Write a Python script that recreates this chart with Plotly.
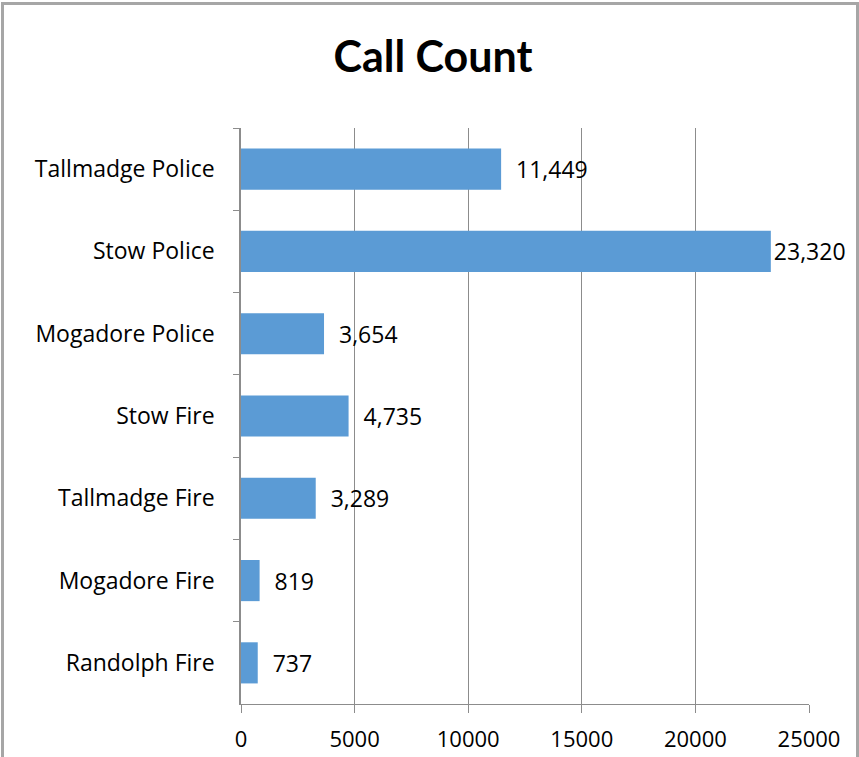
import plotly.graph_objects as go

# categories listed top to bottom, as in the chart
units = ['Tallmadge Police', 'Stow Police', 'Mogadore Police', 'Stow Fire',
         'Tallmadge Fire', 'Mogadore Fire', 'Randolph Fire']
calls = [11449, 23320, 3654, 4735, 3289, 819, 737]
x_ticks = [0, 5000, 10000, 15000, 20000, 25000]

W, H = 859, 757
FONT = 'Open Sans, Carlito, Calibri, sans-serif'
TITLE_FONT = 'Lato, Carlito, Calibri, sans-serif'
GRID = '#8c8c8c'

# Excel pulls the label of the longest bar in close so it fits inside the chart
labels = [('' if v > 20000 else '\u00a0\u00a0') + '%{x:,}' for v in calls]

fig = go.Figure()
fig.add_trace(go.Bar(
    x=calls,
    y=units,
    orientation='h',
    marker=dict(color='#5b9bd5', line=dict(width=0)),
    width=0.5,
    texttemplate=labels,
    textposition='outside',
    textfont=dict(size=23, color='black', family=FONT),
    cliponaxis=False,
    hoverinfo='x+y',
))

fig.update_layout(
    width=W, height=H,
    margin=dict(l=241, r=50, t=128, b=53),
    paper_bgcolor='white',
    plot_bgcolor='white',
    font=dict(family=FONT, size=22, color='black'),
    showlegend=False,
    title=dict(text='<b>Call Count</b>', x=0.504, xref='container', xanchor='center',
               y=1 - 57 / H, yref='container', yanchor='middle',
               font=dict(size=43, family=TITLE_FONT, color='black')),
    xaxis=dict(
        range=[0, 25000], tickvals=x_ticks, ticktext=[str(v) for v in x_ticks],
        showgrid=True, gridcolor=GRID, gridwidth=1,
        showline=True, linecolor=GRID, linewidth=1,
        ticks='outside', ticklen=8, tickcolor=GRID,
        zeroline=False, ticklabelstandoff=8, automargin=False,
    ),
    yaxis=dict(
        autorange='reversed', type='category',
        showgrid=False, showline=True, linecolor=GRID, linewidth=1.5,
        ticks='outside', ticklen=6, tickcolor=GRID, tickson='boundaries',
        ticklabelstandoff=20, zeroline=False, automargin=False,
        tickfont=dict(size=23),
    ),
    bargap=0.5,
)

# chart-area border (runs past the bottom edge, as in the reference)
fig.add_shape(type='rect', xref='paper', yref='paper',
              x0=(2.5 - 241) / 568, x1=(857.5 - 241) / 568,
              y0=(704 - 770) / 576, y1=(704 - 3.5) / 576,
              line=dict(color='#a6a6a6', width=3), layer='below')

fig.write_html('out.html', config={'displayModeBar': False},
               post_script="document.body.style.margin='0';")
